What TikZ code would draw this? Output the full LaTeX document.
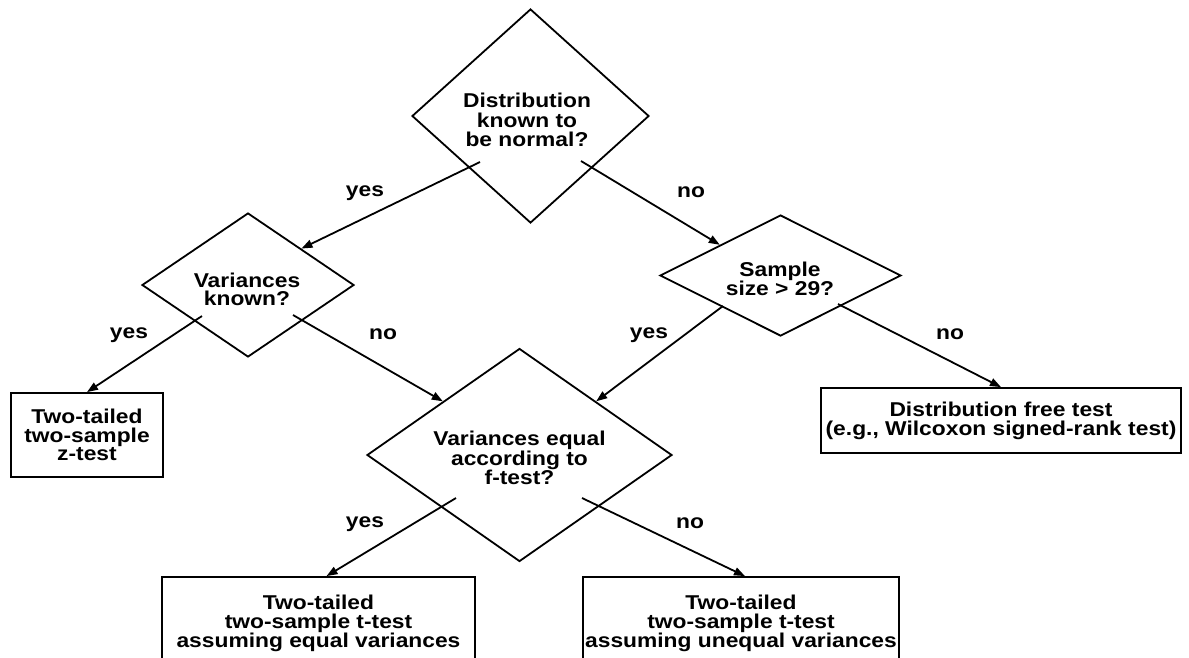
\documentclass[tikz,border=0pt]{standalone}
\usepackage{fontspec}
\newfontfamily\diagfont[FakeStretch=1.14]{Liberation Sans}
\newcommand\dgfont[1]{\diagfont\bfseries\fontsize{20}{#1}\selectfont}
\usetikzlibrary{shapes.geometric,arrows.meta,calc}
\begin{document}
\begin{tikzpicture}[x=1pt,y=-1pt,
  every node/.style={font=\dgfont{18}},
  dia/.style={draw, line width=1.8pt, diamond, inner sep=0pt, shape aspect=1},
  box/.style={draw, line width=1.8pt, rectangle, inner sep=0pt, align=center},
  txt/.style={align=center, inner sep=0pt},
  lbl/.style={inner sep=0pt},
  conn/.style={line width=1.8pt, -{Triangle[length=11pt,width=8pt]}}]
\useasboundingbox (0,0) rectangle (1189,657);
\fill[white] (0,0) rectangle (1189,657);
\clip (0,0) rectangle (1189,657);

% decisions
\node[dia, minimum width=237pt, minimum height=214pt] (d1) at (530.5,116) {};
\node[txt, font=\dgfont{19.5}] (d1t) at (527,120) {Distribution\\known to\\be normal?};
\node[dia, minimum width=212pt, minimum height=144pt] (d2) at (248,285) {};
\node[txt] (d2t) at (247,289) {Variances\\known?};
\node[dia, minimum width=241pt, minimum height=121pt] (d3) at (780.5,275.5) {};
\node[txt] (d3t) at (780,279) {Sample\\size > 29?};
\node[dia, minimum width=305pt, minimum height=213pt] (d4) at (519.5,455) {};
\node[txt] (d4t) at (519.5,458) {Variances equal\\according to\\f-test?};

% outcomes
\node[box, minimum width=152pt, minimum height=84pt, font=\dgfont{18.5}] (b1) at (87,435) {Two-tailed\\two-sample\\z-test};
\node[box, minimum width=360pt, minimum height=65pt, font=\dgfont{19}] (b2) at (1001,420.5) {Distribution free test\\(e.g., Wilcoxon signed-rank test)};
\node[box, minimum width=313pt, minimum height=92pt, font=\dgfont{19}] (b3) at (318.5,623) {Two-tailed\\two-sample t-test\\assuming equal variances};
\node[box, minimum width=316pt, minimum height=92pt, font=\dgfont{19}] (b4) at (741,623) {Two-tailed\\two-sample t-test\\assuming unequal variances};

% connector start points
\coordinate (d1L) at ($(d1)+(-50.5,46)$);
\coordinate (d1R) at ($(d1)+(50.5,45)$);
\coordinate (d2L) at ($(d2)+(-46,31)$);
\coordinate (d2R) at ($(d2)+(45,30)$);
\coordinate (d3L) at ($(d3)+(-57.5,30.5)$);
\coordinate (d3R) at ($(d3)+(57.5,28.5)$);
\coordinate (d4L) at ($(d4)+(-63.5,43)$);
\coordinate (d4R) at ($(d4)+(62.5,43)$);

\draw[conn] (d1L) -- (d2.north east);
\draw[conn] (d1R) -- (d3.north west);
\draw[conn] (d2L) -- (b1.north);
\draw[conn] (d2R) -- (d4.north west);
\draw[conn] (d3L) -- (d4.north east);
\draw[conn] (d3R) -- (b2.north);
\draw[conn] (d4L) -- ([xshift=8pt]b3.north);
\draw[conn] (d4R) -- ([xshift=4pt]b4.north);

% labels
\node[lbl] (l1) at (365,193) {yes};
\node[lbl] (l2) at (691,192) {no};
\node[lbl] (l3) at (129,335) {yes};
\node[lbl] (l4) at (383,334) {no};
\node[lbl] (l5) at (649,335) {yes};
\node[lbl] (l6) at (950,334) {no};
\node[lbl] (l7) at (365,524) {yes};
\node[lbl] (l8) at (690,523) {no};
\end{tikzpicture}
\end{document}
